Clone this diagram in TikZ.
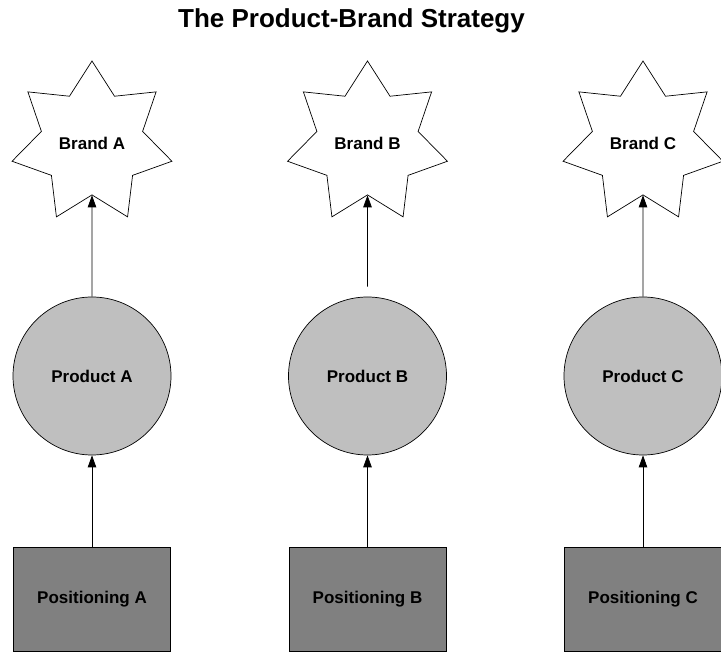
\documentclass[tikz,border=0pt]{standalone}
\usepackage{fontspec}
\setmainfont{Liberation Sans}
\usetikzlibrary{shapes.geometric,arrows.meta}
\begin{document}
\begin{tikzpicture}[x=1pt,y=-1pt]

\def\gap{275.5}
\tikzstyle{boxtext} = [font=\fontsize{17}{20}\selectfont\bfseries];
\tikzstyle{brand} = [boxtext,
	draw, fill=white, star, star points=7, star point ratio=1.58,
	minimum size=164pt, inner sep=0pt, line width=0.7pt ];
\tikzstyle{product} = [boxtext,
	draw, fill=black!25, circle, minimum size=158pt, line width=0.7pt ];
\tikzstyle{posbox} = [boxtext,
	draw, fill=black!50, rectangle,
	minimum height=104pt, minimum width=157pt, line width=0.7pt ];
\tikzstyle{link} = [-{Triangle[length=12pt,width=8.5pt]}, line width=0.7pt];
\useasboundingbox (0,0) rectangle (721,652);

\node[font=\fontsize{26}{30}\selectfont\bfseries] (title) at (351.5,21) {The Product-Brand Strategy};

\node[brand] (b0) at (92+0*\gap,143) {Brand A};
\node[brand] (b1) at (92+1*\gap,143) {Brand B};
\node[brand] (b2) at (92+2*\gap,143) {Brand C};

\node[product] (c0) at (92+0*\gap,376) {Product A};
\node[product] (c1) at (92+1*\gap,376) {Product B};
\node[product] (c2) at (92+2*\gap,376) {Product C};

\node[posbox] (p0) at (92+0*\gap,599) {Positioning A};
\node[posbox] (p1) at (92+1*\gap,599) {Positioning B};
\node[posbox] (p2) at (92+2*\gap,599) {Positioning C};

\draw[link] (p0) -- (c0);
\draw[link] (p1) -- (c1);
\draw[link] (p2) -- (c2);

\draw[link] (c0.north) -- (b0.south);
\draw[link,shorten <=10pt] (c1.north) -- (b1.south);
\draw[link] (c2.north) -- (b2.south);

\end{tikzpicture}
\end{document}
